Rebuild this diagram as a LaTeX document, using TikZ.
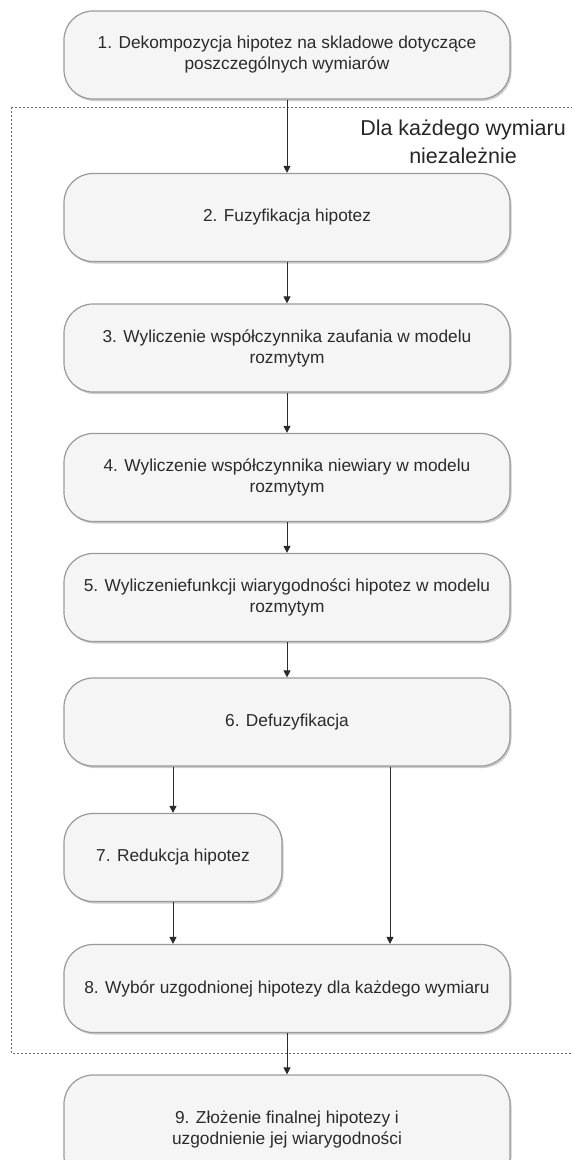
\documentclass[tikz,border=0pt]{standalone}
\usepackage{fontspec}
\setmainfont{Liberation Sans}
\usetikzlibrary{arrows.meta,shadows}

\definecolor{kasten}{HTML}{F5F5F5}
\definecolor{rand}{HTML}{9A9A9A}
\definecolor{schrift}{HTML}{2B2B2B}

\begin{document}
\begin{tikzpicture}[x=1pt,y=-1pt,
    every text node part/.style={align=center},
    krok/.style={draw=rand, line width=1.2pt, fill=kasten, rounded corners=29pt,
      minimum width=446pt, minimum height=88pt, text=schrift,
      font=\fontsize{17.3}{21}\selectfont,
      drop shadow={shadow xshift=1.5pt, shadow yshift=-2pt, fill=black, opacity=.2}},
    strz/.style={draw=schrift, line width=1pt, -{Triangle[width=7pt,length=7pt]}},
    rahmen/.style={draw=black!60, line width=1pt, dash pattern=on 2pt off 2pt}]
    \useasboundingbox (0,0) rectangle (571,1160);

    \draw [rahmen] (11,107) rectangle (590,1053);
    \node [anchor=north east, inner sep=0pt, text=black!85, font=\fontsize{21.5}{28}\selectfont] (HpOpis) at (566,120) {Dla każdego wymiaru\\niezależnie};

    \node [krok] (HpDek) at (287,55) {1. Dekompozycja hipotez na skladowe dotyczące\\poszczególnych wymiarów};
    \node [krok] (HpFuz) at (287,217.5) {2. Fuzyfikacja hipotez};
    \node [krok] (HpZau) at (287,348) {3. Wyliczenie współczynnika zaufania w modelu\\rozmytym};
    \node [krok] (HpNie) at (287,477.5) {4. Wyliczenie współczynnika niewiary w modelu\\rozmytym};
    \node [krok] (HpWia) at (287,597.5) {5. Wyliczeniefunkcji wiarygodności hipotez w modelu\\rozmytym};
    \node [krok] (HpDef) at (287,722) {6. Defuzyfikacja};
    \node [krok, minimum width=218pt] (HpRed) at (173,857.5) {7. Redukcja hipotez};
    \node [krok] (HpWyb) at (287,988.5) {8. Wybór uzgodnionej hipotezy dla każdego wymiaru};
    \node [krok, minimum height=110pt] (HpZlo) at (287,1130) {9. Złożenie finalnej hipotezy i\\uzgodnienie jej wiarygodności};

    \draw [strz] (HpDek) to (HpFuz);
    \draw [strz] (HpFuz) to (HpZau);
    \draw [strz] (HpZau) to (HpNie);
    \draw [strz] (HpNie) to (HpWia);
    \draw [strz] (HpWia) to (HpDef);

    \draw [strz] (HpRed.north |- HpDef.south) to (HpRed);
    \draw [strz] ([xshift=103pt]HpDef.south) to ([xshift=103pt]HpWyb.north);
    \draw [strz] (HpRed) to (HpRed.south |- HpWyb.north);

    \draw [strz] (HpWyb) to (HpZlo);
  \end{tikzpicture}
\end{document}
